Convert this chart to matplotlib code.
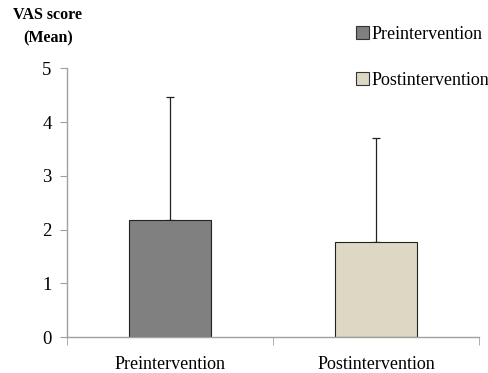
import matplotlib
matplotlib.use("Agg")
import matplotlib.pyplot as plt
from matplotlib.patches import Patch

categories = ["Preintervention", "Postintervention"]
means = [2.18, 1.77]
sds = [2.29, 1.93]
colors = ["#808080", "#ddd8c3"]
yticks = [0, 1, 2, 3, 4, 5]

plt.rcParams['font.family'] = ['Liberation Serif', 'DejaVu Serif']

fig = plt.figure(figsize=(4.88, 3.73), dpi=100)
ax = fig.add_axes([0.137, 0.0965, 0.845, 0.72])

x = list(range(len(categories)))
ax.bar(x, means, width=0.40, color=colors, edgecolor="#222222", linewidth=0.8, zorder=2)
ax.errorbar(x, means, yerr=[[0, 0], sds], fmt="none", ecolor="#222222",
            elinewidth=0.9, capsize=3, capthick=0.9, zorder=1)

ax.set_xlim(-0.5, 1.5)
ax.set_ylim(0, 5)
ax.set_yticks(yticks)
ax.set_xticks(x)
ax.set_xticklabels(categories)
ax.set_xticks([-0.5, 0.5, 1.5], minor=True)
ax.tick_params(axis="x", which="major", length=0, labelsize=13, pad=14)
ax.tick_params(axis="x", which="minor", length=6, color="#a0a0a0", direction="out")
ax.tick_params(axis="y", length=5, color="#a0a0a0", labelsize=13.5, pad=6)

for s in ["top", "right"]:
    ax.spines[s].set_visible(False)
for s in ["left", "bottom"]:
    ax.spines[s].set_color("#a0a0a0")
    ax.spines[s].set_linewidth(1.0)

fig.text(0.098, 0.928, "VAS score\n(Mean)", ha="center", va="center",
         fontsize=11.5, fontweight="bold", linespacing=1.6)

handles = [Patch(facecolor=c, edgecolor="#333333", linewidth=0.8) for c in colors]
fig.legend(handles, categories, loc="upper left", bbox_to_anchor=(0.715, 0.95),
           frameon=False, fontsize=13, handlelength=0.7, handleheight=0.7,
           handletextpad=0.15, labelspacing=1.6, borderaxespad=0)

fig.savefig("out.png", dpi=100)
